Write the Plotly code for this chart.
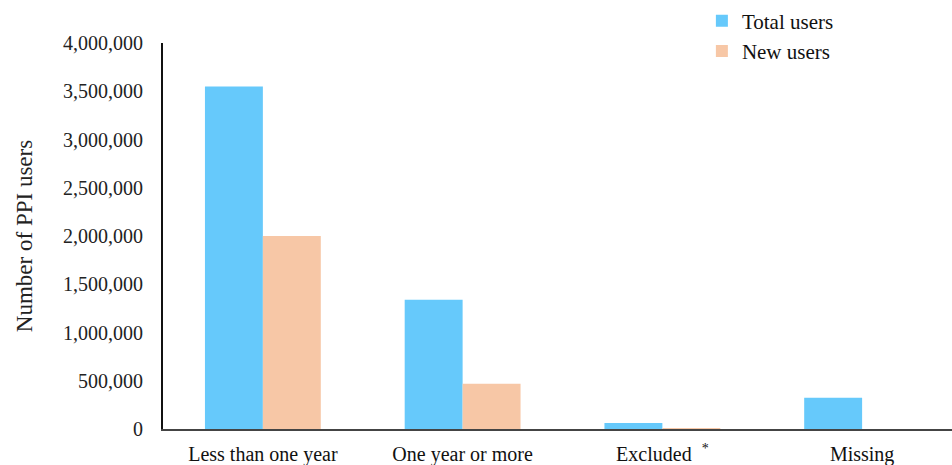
import plotly.graph_objects as go

categories = ["Less than one year", "One year or more", "Excluded  <sup>*</sup>", "Missing"]
total_users = [3550000, 1340000, 62000, 325000]
new_users = [2000000, 470000, 6000, 0]
y_ticks = [0, 500000, 1000000, 1500000, 2000000, 2500000, 3000000, 3500000, 4000000]
y_tick_labels = ["0", "500,000", "1,000,000", "1,500,000", "2,000,000",
                 "2,500,000", "3,000,000", "3,500,000", "4,000,000"]

font_family = "Liberation Serif, Times New Roman, serif"

fig = go.Figure()
fig.add_trace(go.Bar(name="Total users", x=categories, y=total_users,
                     marker=dict(color="#66C9FB", line=dict(width=0))))
fig.add_trace(go.Bar(name="New users", x=categories, y=new_users,
                     marker=dict(color="#F7C7A6", line=dict(width=0))))

fig.update_layout(
    width=952, height=465,
    margin=dict(l=163, r=0, t=43, b=36, autoexpand=False),
    paper_bgcolor="white", plot_bgcolor="white",
    barmode="group", bargap=0.42, bargroupgap=0,
    font=dict(family=font_family, size=20, color="#222222"),
    legend=dict(x=0.683, y=1.11, xanchor="left", yanchor="top",
                font=dict(size=21, color="#111111"), bgcolor="rgba(0,0,0,0)",
                itemwidth=30, tracegroupgap=0),
    xaxis=dict(range=[-0.5, 3.45], showline=True, linecolor="#444444", linewidth=2,
               showgrid=False, ticks="", ticklabelstandoff=6,
               tickfont=dict(size=20, color="#111111")),
    yaxis=dict(range=[0, 4000000], tickvals=y_ticks, ticktext=y_tick_labels,
               showline=True, linecolor="#111111", linewidth=2, showgrid=False,
               zeroline=False, ticks="", ticklabelstandoff=14,
               tickfont=dict(size=20, color="#222222"),
               title=dict(text="Number of PPI users", font=dict(size=23, color="#222222"),
                          standoff=24)),
)

fig.write_html("out.html")
